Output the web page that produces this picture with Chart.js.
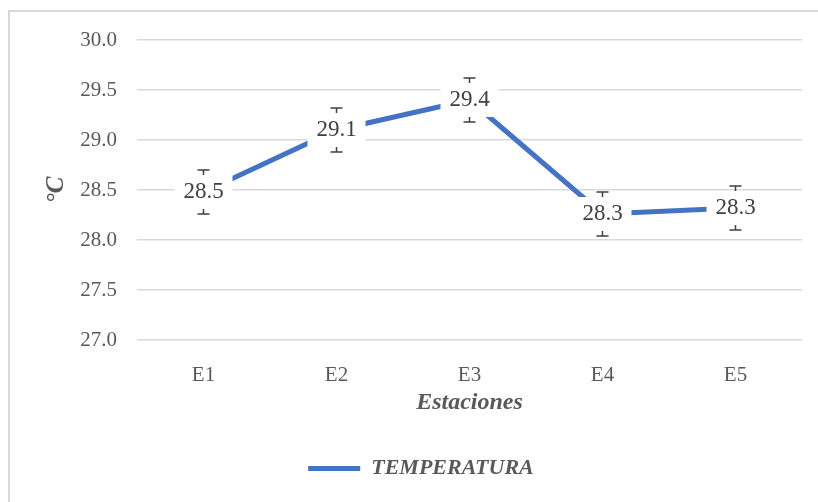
<!DOCTYPE html>
<html>
<head>
<meta charset="utf-8">
<script src="https://cdn.jsdelivr.net/npm/chart.js@4.4.1/dist/chart.umd.min.js"></script>
<style>
  html, body { margin: 0; background: #fff; overflow: hidden; }
  #contenedor { position: relative; width: 818px; height: 502px; }
  #marco { position: absolute; left: 8px; top: 10px; width: 820px; height: 500px; border-top: 2px solid #d9d9d9; border-left: 2px solid #d9d9d9; }
  #grafico { position: absolute; left: 0; top: 0; }
</style>
</head>
<body>
<div id="contenedor">
  <div id="marco"></div>
  <canvas id="grafico" width="818" height="502"></canvas>
</div>
<script>
// datos
const estaciones = ['E1', 'E2', 'E3', 'E4', 'E5'];
const temperatura = [28.48, 29.10, 29.40, 28.26, 28.32];
const errores = [0.22, 0.22, 0.22, 0.22, 0.22];
const ejeMin = 27.0;
const ejeMax = 30.0;
const paso = 0.5;

const fuente = '"Liberation Serif", "Times New Roman", serif';

// barras de error + etiquetas con fondo blanco
const etiquetasPlugin = {
    id: 'etiquetas',
    afterDatasetsDraw(chart) {
        const ctx = chart.ctx;
        const y = chart.scales.y;
        const meta = chart.getDatasetMeta(0);
        ctx.save();
        for (let i = 0; i < meta.data.length; i++) {
            const px = meta.data[i].x;
            const py = meta.data[i].y;
            const arriba = y.getPixelForValue(temperatura[i] + errores[i]);
            const abajo = y.getPixelForValue(temperatura[i] - errores[i]);
            ctx.strokeStyle = '#404040';
            ctx.lineWidth = 1.5;
            ctx.beginPath();
            ctx.moveTo(px, arriba); ctx.lineTo(px, abajo);
            ctx.moveTo(px - 6, arriba); ctx.lineTo(px + 6, arriba);
            ctx.moveTo(px - 6, abajo); ctx.lineTo(px + 6, abajo);
            ctx.stroke();

            ctx.fillStyle = '#fff';
            ctx.fillRect(px - 29, py - 17, 58, 34);
            ctx.fillStyle = '#404040';
            ctx.font = '23px ' + fuente;
            ctx.textAlign = 'center';
            ctx.textBaseline = 'middle';
            ctx.fillText(temperatura[i].toFixed(1), px, py);
        }
        ctx.restore();
    }
};

// mueve un poco la leyenda a la derecha como en el original
const leyendaPlugin = {
    id: 'leyendaDesplazada',
    afterLayout(chart) {
        chart.legend.left += 20;
        chart.legend.right += 20;
    }
};

let ctx = document.getElementById('grafico').getContext('2d');
var grafico = new Chart(ctx, {
    type: 'line',
    data: {
        labels: estaciones,
        datasets: [{
            label: 'TEMPERATURA',
            data: temperatura,
            borderColor: '#4472C4',
            backgroundColor: '#4472C4',
            borderWidth: 5,
            borderCapStyle: 'round',
            pointRadius: 0,
            tension: 0
        }]
    },
    options: {
        responsive: false,
        animation: false,
        layout: {
            padding: { left: 0, right: 16, top: 40, bottom: 12.5 }
        },
        scales: {
            x: {
                offset: true,
                grid: { display: false },
                border: { display: false },
                ticks: {
                    color: '#595959',
                    padding: 15,
                    font: { family: fuente, size: 21 }
                },
                title: {
                    display: true,
                    text: 'Estaciones',
                    color: '#595959',
                    padding: { top: 0, bottom: 28 },
                    font: { family: fuente, size: 24, weight: 'bold', style: 'italic' }
                },
                afterFit(escala) {
                    escala.height = 105.5;
                }
            },
            y: {
                min: ejeMin,
                max: ejeMax,
                grid: { color: '#d9d9d9', lineWidth: 1.5, drawTicks: false },
                border: { display: false },
                ticks: {
                    stepSize: paso,
                    color: '#595959',
                    padding: 20,
                    font: { family: fuente, size: 21 },
                    callback: v => v.toFixed(1)
                },
                title: {
                    display: true,
                    text: '°C',
                    color: '#595959',
                    padding: { top: 42, bottom: 0 },
                    font: { family: fuente, size: 25, weight: 'bold', style: 'italic' }
                },
                afterFit(escala) {
                    escala.width = 137;
                }
            }
        },
        plugins: {
            legend: {
                position: 'bottom',
                labels: {
                    usePointStyle: true,
                    pointStyle: 'line',
                    pointStyleWidth: 52,
                    padding: 12,
                    color: '#595959',
                    font: { family: fuente, size: 22, weight: 'bold', style: 'italic' }
                }
            },
            tooltip: { enabled: false }
        }
    },
    plugins: [etiquetasPlugin, leyendaPlugin]
});
</script>
</body>
</html>
